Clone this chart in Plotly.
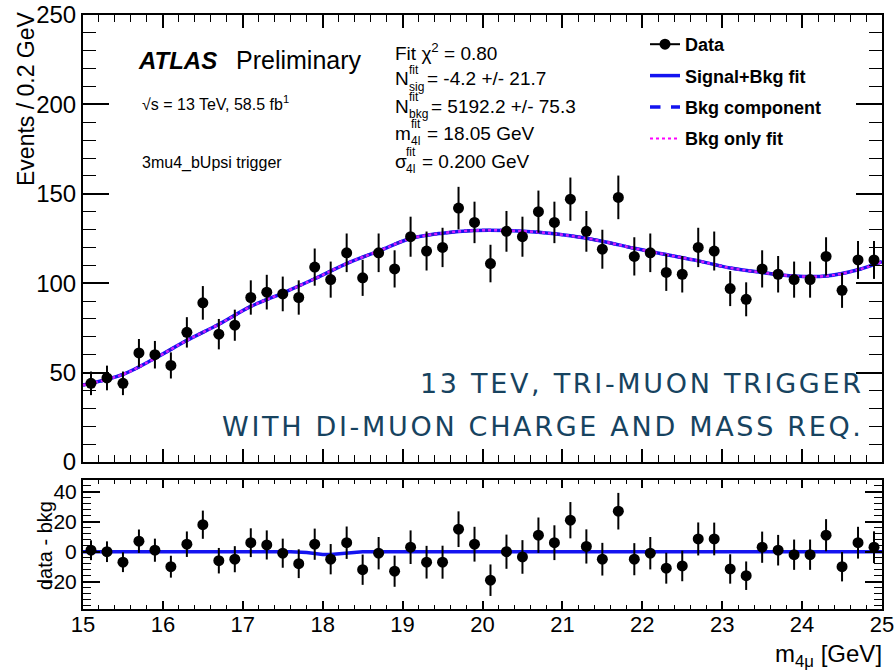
import plotly.graph_objects as go

# ---------------- data ----------------
mass = [15.1, 15.3, 15.5, 15.7, 15.9, 16.1, 16.3, 16.5, 16.7, 16.9,
        17.1, 17.3, 17.5, 17.7, 17.9, 18.1, 18.3, 18.5, 18.7, 18.9,
        19.1, 19.3, 19.5, 19.7, 19.9, 20.1, 20.3, 20.5, 20.7, 20.9,
        21.1, 21.3, 21.5, 21.7, 21.9, 22.1, 22.3, 22.5, 22.7, 22.9,
        23.1, 23.3, 23.5, 23.7, 23.9, 24.1, 24.3, 24.5, 24.7, 24.9]

events = [44, 47, 44, 61, 60, 54, 72.5, 89, 71.5, 76.5,
          92, 95, 94, 92, 109, 102, 117, 103, 117, 108,
          126, 118, 120, 142, 134, 111, 129, 126, 140, 134,
          147, 129, 119, 148, 115, 117, 106, 105, 120, 118,
          97, 91, 108, 105, 102, 102, 115, 96, 113, 113]

events_err = [6.6, 6.9, 6.6, 7.8, 7.7, 7.3, 8.5, 9.4, 8.5, 8.7,
              9.6, 9.7, 9.7, 9.6, 10.4, 10.1, 10.8, 10.1, 10.8, 10.4,
              11.2, 10.9, 11.0, 11.9, 11.6, 10.5, 11.4, 11.2, 11.8, 11.6,
              12.1, 11.4, 10.9, 12.2, 10.7, 10.8, 10.3, 10.2, 11.0, 10.9,
              9.8, 9.5, 10.4, 10.2, 10.1, 10.1, 10.7, 9.8, 10.6, 10.6]

residual = [1, 0, -7, 7, 1, -10, 5, 18, -6, -5,
            6, 4.5, -1, -8, 5, -5, 6, -12, -1, -13,
            3, -7, -7, 15, 5, -19, 0, -3.5, 11, 6,
            21, 3.5, -5, 27, -5, -1, -11, -9.5, 8.5, 8.5,
            -11.5, -16, 3, 1, -2, -2, 11, -10, 6, 3]

fit_x = [15.0, 15.5, 15.9, 16.3, 16.7, 17.1, 17.5, 17.9, 18.3, 18.7,
         19.1, 19.5, 19.9, 20.3, 20.7, 21.1, 21.5, 21.9, 22.3, 22.7,
         23.1, 23.5, 23.9, 24.3, 24.7, 25.0]
fit_y = [43, 49, 58, 68, 77, 87, 94.5, 102.5, 111, 118,
         125, 128, 129.5, 129.5, 128.5, 126.5, 123.5, 119.5, 116, 112.5,
         108.5, 106, 104, 104, 107.5, 112]

sig_x = [15.0, 17.6, 17.8, 17.9, 18.0, 18.1, 18.2, 18.3, 18.5, 25.0]
sig_y = [0, 0, -0.6, -1.3, -1.8, -1.8, -1.3, -0.6, 0, 0]

legend_names = ["Data", "Signal+Bkg fit", "Bkg component", "Bkg only fit"]

# ---------------- geometry helpers ----------------
W, H = 896, 672
L, R, T, B = 83, 882, 15, 609


def P(px, py):
    return (px - L) / (R - L), (B - py) / (B - T)


FONT = "Liberation Sans, Arial, Helvetica, sans-serif"
BLUE = "#1414f0"

fig = go.Figure()

# fit curves (top)
fig.add_trace(go.Scatter(x=fit_x, y=fit_y, mode="lines", line=dict(color=BLUE, width=3.5, shape="spline"),
                         showlegend=False, xaxis="x", yaxis="y", hoverinfo="skip"))
fig.add_trace(go.Scatter(x=fit_x, y=fit_y, mode="lines", line=dict(color="#2a18d8", width=3, dash="dash", shape="spline"),
                         showlegend=False, xaxis="x", yaxis="y", hoverinfo="skip"))
fig.add_trace(go.Scatter(x=fit_x, y=fit_y, mode="lines", line=dict(color="#d020ff", width=2.5, dash="dot", shape="spline"),
                         showlegend=False, xaxis="x", yaxis="y", hoverinfo="skip"))

# data points (top)
fig.add_trace(go.Scatter(x=mass, y=events, mode="markers",
                         marker=dict(color="black", size=11, symbol="circle"),
                         error_y=dict(type="data", array=events_err, color="black", thickness=2, width=0),
                         showlegend=False, xaxis="x", yaxis="y"))

# residual panel
fig.add_trace(go.Scatter(x=sig_x, y=sig_y, mode="lines", line=dict(color=BLUE, width=3.5),
                         showlegend=False, xaxis="x2", yaxis="y2", hoverinfo="skip"))
fig.add_trace(go.Scatter(x=mass, y=residual, mode="markers",
                         marker=dict(color="black", size=11, symbol="circle"),
                         error_y=dict(type="data", array=events_err, color="black", thickness=2, width=0),
                         showlegend=False, xaxis="x2", yaxis="y2"))

# legend entries
fig.add_trace(go.Scatter(x=[None], y=[None], mode="lines+markers", name="<b>%s</b>" % legend_names[0],
                         line=dict(color="black", width=2), marker=dict(color="black", size=11),
                         legendgroup="a", xaxis="x", yaxis="y"))
fig.add_trace(go.Scatter(x=[None], y=[None], mode="lines", name="<b>%s</b>" % legend_names[1],
                         line=dict(color=BLUE, width=3.5), legendgroup="b", xaxis="x", yaxis="y"))
fig.add_trace(go.Scatter(x=[None], y=[None], mode="lines", name="<b>%s</b>" % legend_names[2],
                         line=dict(color=BLUE, width=3.5, dash="dash"), legendgroup="c", xaxis="x", yaxis="y"))
fig.add_trace(go.Scatter(x=[None], y=[None], mode="lines", name="<b>%s</b>" % legend_names[3],
                         line=dict(color="#ff00ff", width=2, dash="dot"), legendgroup="d", xaxis="x", yaxis="y"))

top_dom = [(B - 462) / (B - T), 1]
bot_dom = [0, (B - 480) / (B - T)]

axis_common = dict(showline=True, linecolor="black", linewidth=2, mirror="allticks",
                   ticks="inside", tickcolor="black", tickwidth=1.5, showgrid=False, zeroline=False,
                   automargin=False,
                   tickfont=dict(family=FONT, size=22, color="black"))

fig.update_layout(
    width=W, height=H,
    margin=dict(l=L, r=W - R, t=T, b=H - B, autoexpand=False),
    paper_bgcolor="white", plot_bgcolor="white",
    xaxis=dict(axis_common, domain=[0, 1], range=[15, 25], dtick=1, ticklen=13, anchor="y",
               showticklabels=False,
               minor=dict(dtick=0.2, ticklen=7, ticks="inside", tickcolor="black", tickwidth=1.2)),
    yaxis=dict(axis_common, domain=top_dom, range=[0, 250], dtick=50, ticklen=26, anchor="x",
               tickfont=dict(family=FONT, size=24, color="black"),
               minor=dict(dtick=10, ticklen=13, ticks="inside", tickcolor="black", tickwidth=1.2)),
    xaxis2=dict(axis_common, domain=[0, 1], range=[15, 25], dtick=1, ticklen=8, anchor="y2",
                tickfont=dict(family=FONT, size=22, color="black"), ticklabelstandoff=-5,
                minor=dict(dtick=0.2, ticklen=4, ticks="inside", tickcolor="black", tickwidth=1.2)),
    yaxis2=dict(axis_common, domain=bot_dom, range=[-38.2, 47.8], dtick=20, ticklen=17, anchor="x2",
                tickfont=dict(family=FONT, size=21, color="black"),
                minor=dict(dtick=4, ticklen=8, ticks="inside", tickcolor="black", tickwidth=1.2)),
    legend=dict(x=P(645, 0)[0], y=P(0, 26)[1], xanchor="left", yanchor="top",
                bgcolor="rgba(0,0,0,0)", font=dict(family=FONT, size=18, color="black"),
                tracegroupgap=5, traceorder="grouped"),
    showlegend=True,
)

ann = []


def add_text(px, py, text, size, xanchor="left", color="black", family=FONT, angle=0, yanchor="middle"):
    x, y = P(px, py)
    ann.append(dict(x=x, y=y, xref="paper", yref="paper", text=text, showarrow=False,
                    xanchor=xanchor, yanchor=yanchor, textangle=angle,
                    font=dict(family=family, size=size, color=color)))


# axis titles
add_text(26, 99, "Events / 0.2 GeV", 23, xanchor="center", angle=-90)
add_text(45, 546, "data - bkg", 20, xanchor="center", angle=-90)
add_text(884, 655, "m<sub>4\u03bc</sub> [GeV]", 24, xanchor="right")

# ATLAS label
add_text(136, 60, "<b><i>ATLAS</i></b>", 24)
add_text(234, 60, "Preliminary", 25)
add_text(140, 103, "\u221as = 13 TeV, 58.5 fb<sup>1</sup>", 16)
add_text(140, 163, "3mu4_bUpsi trigger", 16)

# fit info
FS = 19
SS = 12
add_text(393, 52, "Fit \u03c7<sup>2</sup> = 0.80", FS)
add_text(393, 79, "N", FS)
add_text(407, 70, "fit", SS)
add_text(407, 87, "sig", SS)
add_text(425, 79, "= -4.2 +/- 21.7", FS)
add_text(393, 106, "N", FS)
add_text(407, 97, "fit", SS)
add_text(407, 114, "bkg", SS)
add_text(429, 106, "= 5192.2 +/- 75.3", FS)
add_text(393, 133, "m", FS)
add_text(409, 124, "fit", SS)
add_text(409, 141, "4l", SS)
add_text(425, 133, "= 18.05 GeV", FS)
add_text(393, 161, "\u03c3", FS)
add_text(404, 152, "fit", SS)
add_text(404, 169, "4l", SS)
add_text(420, 161, "= 0.200 GeV", FS)

# overlay text
HS = "\u200a"
line1 = HS.join("13 TEV, TRI-MUON TRIGGER")
line2 = HS.join("WITH DI-MUON CHARGE AND MASS REQ.")
add_text(863, 383, line1, 27, xanchor="right", color="#17435f", family="DejaVu Sans")
add_text(863, 426, line2, 27, xanchor="right", color="#17435f", family="DejaVu Sans")

fig.update_layout(annotations=ann)

fig.write_html("out.html")
